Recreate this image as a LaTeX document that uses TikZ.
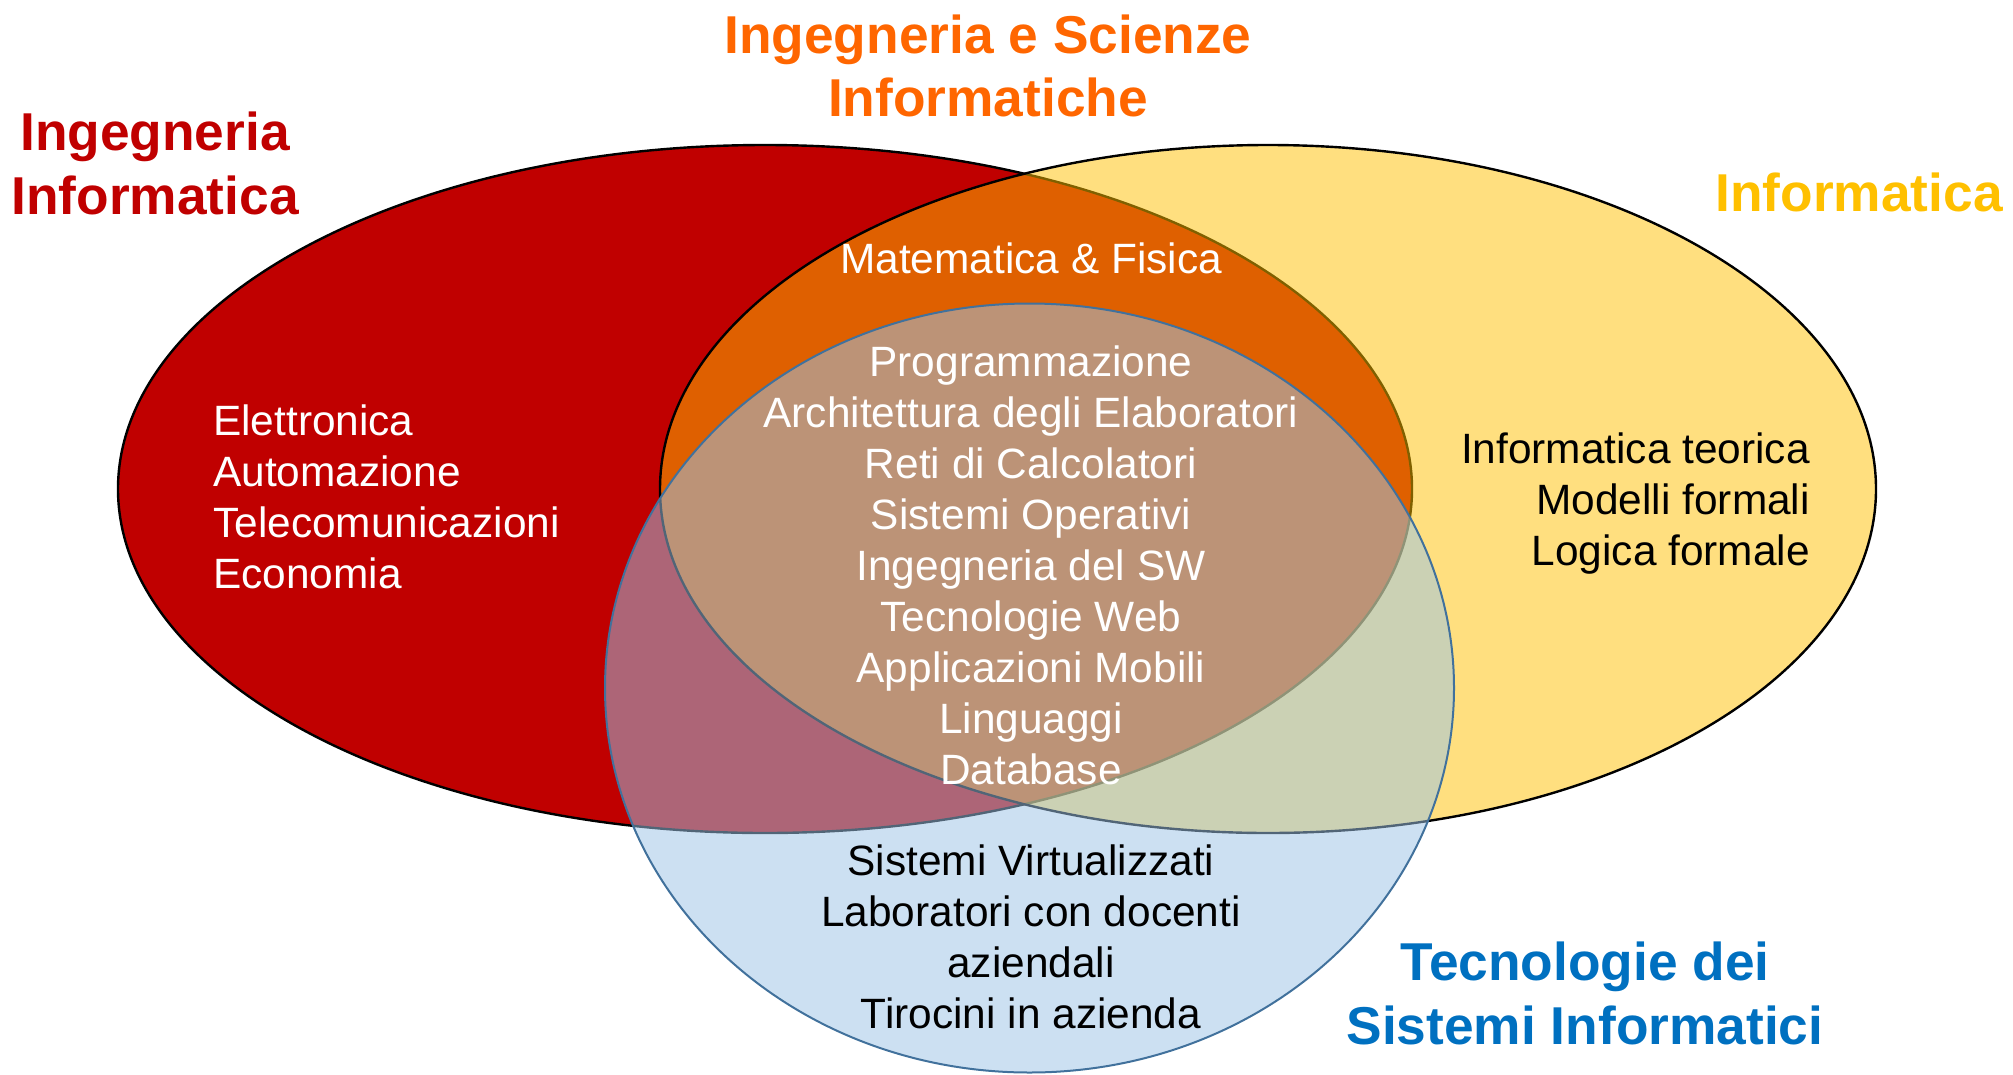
\documentclass[tikz,border=0pt]{standalone}
\usepackage{fontspec}
\setmainfont{Liberation Sans}
\definecolor{iired}{HTML}{C00000}
\definecolor{infoyel}{HTML}{FFC000}
\definecolor{tsiblue}{HTML}{9DC3E6}
\definecolor{tsiline}{HTML}{41719C}
\definecolor{isorange}{HTML}{FF6600}
\definecolor{tsititle}{HTML}{0070C0}
\begin{document}
\begin{tikzpicture}[x=1pt,y=-1pt,
  title/.style={font=\fontsize{53.3}{63}\selectfont\bfseries, inner sep=0pt},
  body/.style={font=\fontsize{42.4}{51}\selectfont, inner sep=0pt},
  setline/.style={line width=2.4pt}]
\useasboundingbox (0,0) rectangle (2013,1074);
% sets
\path[setline, fill=iired, draw=black] (765,489) ellipse [x radius=647pt, y radius=344pt];
\path[setline, fill=infoyel, fill opacity=0.5, draw=black] (1268,489) ellipse [x radius=608pt, y radius=344pt];
\path[line width=2pt, fill=tsiblue, fill opacity=0.52, draw=tsiline] (1029.5,688) ellipse [x radius=424.5pt, y radius=384.5pt];
% titles
\node[title, text=iired, anchor=base] (t1a) at (155,150) {Ingegneria};
\node[title, text=iired, anchor=base] (t1b) at (155,214) {Informatica};
\node[title, text=isorange, anchor=base] (t2a) at (988,53) {Ingegneria e Scienze};
\node[title, text=isorange, anchor=base] (t2b) at (988,116) {Informatiche};
\node[title, text=infoyel, anchor=base east] (t3) at (2003,211) {Informatica};
\node[title, text=tsititle, anchor=base] (t4a) at (1585,980) {Tecnologie dei};
\node[title, text=tsititle, anchor=base] (t4b) at (1585,1044) {Sistemi Informatici};
% contents
\foreach \s [count=\i] in {Elettronica,Automazione,Telecomunicazioni,Economia}
  \node[body, text=white, anchor=base west] (l\i) at (213,{435.5+51*(\i-1)}) {\s};
\node[body, text=white, anchor=base] (mf) at (1031,273) {Matematica \& Fisica};
\foreach \s [count=\i] in {Programmazione,Architettura degli Elaboratori,Reti di Calcolatori,Sistemi Operativi,Ingegneria del SW,Tecnologie Web,Applicazioni Mobili,Linguaggi,Database}
  \node[body, text=white, anchor=base] (c\i) at (1031,{376.5+51*(\i-1)}) {\s};
\foreach \s [count=\i] in {Informatica teorica,Modelli formali,Logica formale}
  \node[body, text=black, anchor=base east] (r\i) at (1810,{463.5+51*(\i-1)}) {\s};
\foreach \s [count=\i] in {Sistemi Virtualizzati,Laboratori con docenti,aziendali,Tirocini in azienda}
  \node[body, text=black, anchor=base] (b\i) at (1031,{875.5+51*(\i-1)}) {\s};
\end{tikzpicture}
\end{document}
